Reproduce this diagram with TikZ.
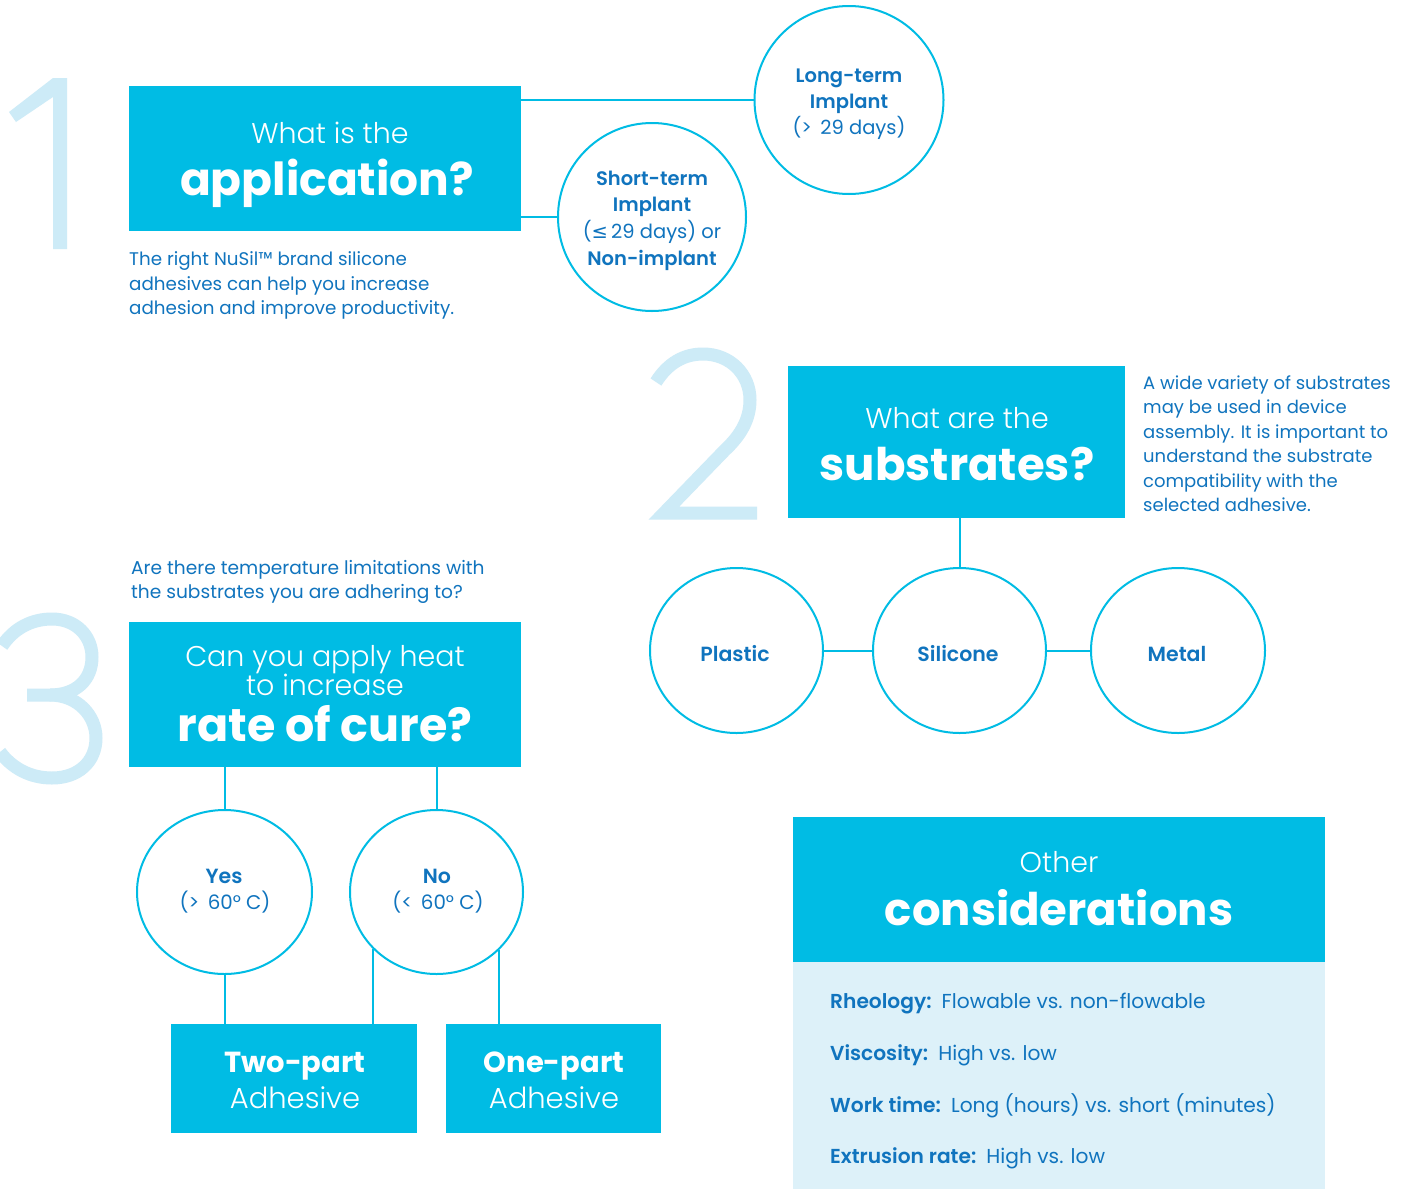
\documentclass[tikz,border=0pt]{standalone}
\usepackage{fontspec}
\setmainfont{Poppins}
\newfontfamily\lightfont{Poppins Light}
\newfontfamily\semifont{Poppins SemiBold}
\newfontfamily\dvfont{DejaVu Sans}
\usetikzlibrary{shapes.geometric}
\definecolor{cy}{RGB}{0,188,228}
\definecolor{tb}{RGB}{16,116,190}
\definecolor{numl}{RGB}{205,235,247}
\definecolor{panelc}{RGB}{221,241,249}
\newcommand{\fs}[1]{\fontsize{#1}{#1}\selectfont}
\begin{document}
\begin{tikzpicture}[x=1pt,y=-1pt,
  qbox/.style={fill=cy, inner sep=0pt, draw=none},
  ring/.style={ellipse, draw=cy, line width=2pt, inner sep=0pt, fill=white},
  conn/.style={draw=cy, line width=2pt},
  wt/.style={text=white, inner sep=0pt, anchor=base},
  bt/.style={text=tb, inner sep=0pt, anchor=base},
  btl/.style={text=tb, inner sep=0pt, anchor=base west},
  bignum/.style={draw=numl, line width=13pt, line join=miter}
]
\useasboundingbox (0,0) rectangle (1413,1189);
\fill[white] (0,0) rectangle (1413,1189);

% big numerals
\fill[numl] (67,78) -- (67,249) -- (53,249) -- (53,97) -- (16,122) -- (9,112) -- (53,78) -- cycle;
\draw[bignum] (656,382) .. controls (668,363) and (684,354) .. (703,354)
   .. controls (730,354) and (750,374) .. (750,400)
   .. controls (750,420) and (740,436) .. (725,450) -- (664,513) -- (757,513);
\draw[bignum] (2,646) .. controls (14,628) and (32,619) .. (52,619)
   .. controls (76,619) and (92,636) .. (92,657)
   .. controls (92,680) and (76,695) .. (50,695) -- (27,695);
\draw[bignum] (50,695) .. controls (78,695) and (96,716) .. (96,738)
   .. controls (96,762) and (78,778) .. (52,778)
   .. controls (30,778) and (12,768) .. (0,752);

% ---- section 1
\node[qbox, minimum width=392pt, minimum height=145pt] (b1) at (325,158.5) {};
\node[ring, minimum width=189pt, minimum height=188pt] (lt) at (849,100) {};
\node[ring, minimum width=188pt, minimum height=188pt] (st) at (652,217) {};
\draw[conn] (lt.west) -- (lt.west -| b1.east);
\draw[conn] (st.west) -- (st.west -| b1.east);
\node[wt] (b1a) at (330,143) {\fs{28.5}\lightfont What is the};
\node[wt] (b1b) at (327,195) {\fs{45.5}\bfseries application?};
\node[btl] (t1a) at (129,265) {\fs{18.3}The right NuSil™ brand silicone};
\node[btl] (t1b) at (129,290) {\fs{18.3}adhesives can help you increase};
\node[btl] (t1c) at (129,314) {\fs{18.3}adhesion and improve productivity.};
\node[bt] (lt1) at (849,82) {\fs{19.5}\semifont Long-term};
\node[bt] (lt2) at (849,108) {\fs{19.5}\semifont Implant};
\node[bt] (lt3) at (849,134) {\fs{19.5}(>\, 29 days)};
\node[bt] (st1) at (652,185) {\fs{19.5}\semifont Short-term};
\node[bt] (st2) at (652,211) {\fs{19.5}\semifont Implant};
\node[bt] (st3) at (652,238) {\fs{19.5}({\dvfont ≤}\,29 days) or};
\node[bt] (st4) at (652,265) {\fs{19.5}\semifont Non-implant};

% ---- section 2
\node[qbox, minimum width=337pt, minimum height=152pt] (b2) at (956.5,442) {};
\node[wt] (b2a) at (957,428) {\fs{28.5}\lightfont What are the};
\node[wt] (b2b) at (957,480) {\fs{45}\bfseries substrates?};
\node[ring, minimum width=173pt, minimum height=165pt] (pl) at (736.5,650.5) {};
\node[ring, minimum width=173pt, minimum height=165pt] (si) at (959.5,650.5) {};
\node[ring, minimum width=174pt, minimum height=165pt] (me) at (1178,650.5) {};
\draw[conn] (b2.south -| si.north) -- (si.north);
\draw[conn] (pl.east) -- (si.west);
\draw[conn] (si.east) -- (me.west);
\node[bt] (plt) at (735,661) {\fs{20.5}\semifont Plastic};
\node[bt] (sit) at (958,661) {\fs{20.5}\semifont Silicone};
\node[bt] (met) at (1177,661) {\fs{20.5}\semifont Metal};
\node[btl] (s2a) at (1143,389) {\fs{18}A wide variety of substrates};
\node[btl] (s2b) at (1143,413.5) {\fs{18}may be used in device};
\node[btl] (s2c) at (1143,438) {\fs{18}assembly. It is important to};
\node[btl] (s2d) at (1143,462.5) {\fs{18}understand the substrate};
\node[btl] (s2e) at (1143,487) {\fs{18}compatibility with the};
\node[btl] (s2f) at (1143,511) {\fs{18}selected adhesive.};

% ---- section 3
\node[btl] (s3a) at (131,574) {\fs{18.6}Are there temperature limitations with};
\node[btl] (s3b) at (131,598) {\fs{18.6}the substrates you are adhering to?};
\node[qbox, minimum width=392pt, minimum height=145pt] (b3) at (325,694.5) {};
\node[wt] (b3a) at (325,666) {\fs{28.5}\lightfont Can you apply heat};
\node[wt] (b3b) at (325,695) {\fs{28.5}\lightfont to increase};
\node[wt] (b3c) at (325,741) {\fs{46}\bfseries rate of cure?};
\node[ring, minimum width=175pt, minimum height=164pt] (yes) at (224.5,892) {};
\node[ring, minimum width=173pt, minimum height=164pt] (no) at (436.5,892) {};
\node[qbox, minimum width=246pt, minimum height=109pt] (two) at (294,1078.5) {};
\node[qbox, minimum width=215pt, minimum height=109pt] (one) at (553.5,1078.5) {};
\draw[conn] (yes.north) -- (yes.north |- b3.south);
\draw[conn] (no.north) -- (no.north |- b3.south);
\draw[conn] (yes.south) -- (yes.south |- two.north);
\draw[conn] (no.222.8) -- (no.222.8 |- two.north);
\draw[conn] (no.317.2) -- (no.317.2 |- one.north);
\node[bt] (y1) at (224,883) {\fs{20.5}\semifont Yes};
\node[bt] (y2) at (225,909) {\fs{19.8}(>\, 60° C)};
\node[bt] (n1) at (437,883) {\fs{20.5}\semifont No};
\node[bt] (n2) at (438,909) {\fs{19.8}(<\, 60° C)};
\node[wt] (tw1) at (295,1072) {\fs{29}\bfseries Two-part};
\node[wt] (tw2) at (295,1108) {\fs{29}\lightfont Adhesive};
\node[wt] (on1) at (554,1072) {\fs{29}\bfseries One-part};
\node[wt] (on2) at (554,1108) {\fs{29}\lightfont Adhesive};

% ---- other considerations
\node[fill=panelc, inner sep=0pt, minimum width=532pt, minimum height=227pt] (pan) at (1059,1075.5) {};
\node[qbox, minimum width=532pt, minimum height=145pt] (oc) at (1059,889.5) {};
\node[wt] (oc1) at (1059,872) {\fs{28.5}\lightfont Other};
\node[wt] (oc2) at (1059,925) {\fs{45}\bfseries considerations};
\node[btl] (r1) at (830,1008) {\fs{20.2}{\semifont Rheology:}\enspace Flowable vs. non-flowable};
\node[btl] (r2) at (830,1060) {\fs{20.2}{\semifont Viscosity:}\enspace High vs. low};
\node[btl] (r3) at (830,1112) {\fs{20.2}{\semifont Work time:}\enspace Long (hours) vs. short (minutes)};
\node[btl] (r4) at (830,1163) {\fs{20.2}{\semifont Extrusion rate:}\enspace High vs. low};
\end{tikzpicture}
\end{document}
